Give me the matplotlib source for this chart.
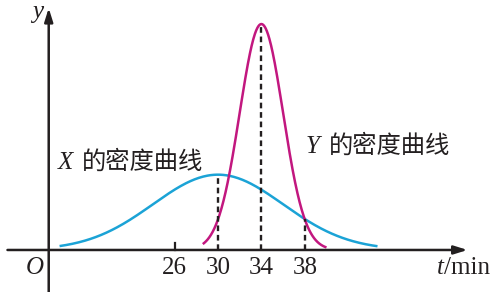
import numpy as np
import matplotlib
matplotlib.use("Agg")
import matplotlib.pyplot as plt

# distribution parameters
x_mu, x_sigma = 30, 6
y_mu, y_sigma = 34, 2
x_span = [15.4, 44.7]
y_span = [28.6, 40.0]
tick_values = [26, 30, 34, 38]
tick_labels = ["26", "30", "34", "38"]

BLUE = "#1ba3d6"
MAGENTA = "#c2177f"
INK = "#231f20"
SERIF = ["Liberation Serif", "DejaVu Serif"]
CJK = ["Noto Sans CJK SC", "DejaVu Sans"]


def pdf(t, mu, sigma):
    return np.exp(-(t - mu) ** 2 / (2 * sigma ** 2)) / (sigma * np.sqrt(2 * np.pi))


def main():
    fig = plt.figure(figsize=(4.95, 2.92), dpi=100)
    ax = fig.add_axes([0, 0, 1, 1])
    ax.set_xlim(9.91, 55.53)
    ax.set_ylim(-0.0371, 0.2207)
    ax.axis("off")

    x0 = 14.4  # where the y axis sits
    arrow = dict(arrowstyle="-|>,head_length=0.8,head_width=0.25", lw=1.8, color=INK,
                 shrinkA=0, shrinkB=0)
    ax.annotate("", xy=(53.0, 0), xytext=(10.6, 0), arrowprops=arrow)
    ax.annotate("", xy=(x0, 0.2136), xytext=(x0, -0.0371), arrowprops=arrow)

    tx = np.linspace(*x_span, 300)
    ty = np.linspace(*y_span, 300)
    ax.plot(tx, pdf(tx, x_mu, x_sigma), color=BLUE, lw=1.8, solid_capstyle="butt")
    ax.plot(ty, pdf(ty, y_mu, y_sigma), color=MAGENTA, lw=1.8, solid_capstyle="butt")

    dash = dict(color=INK, lw=1.7, ls=(0, (2.4, 1.6)))
    ax.plot([x_mu, x_mu], [0, pdf(x_mu, x_mu, x_sigma)], **dash)
    ax.plot([y_mu, y_mu], [0, pdf(y_mu, y_mu, y_sigma)], **dash)
    ax.plot([38, 38], [0, pdf(38, x_mu, x_sigma)], **dash)
    ax.plot([26, 26], [0, 0.006], color=INK, lw=1.6)

    for v, lab in zip(tick_values, tick_labels):
        ax.text(v, -0.0159, lab, family=SERIF, fontsize=18, ha="center", va="center", color=INK)

    ax.text(x0 - 0.5, -0.0159, "O", family=SERIF, style="italic", fontsize=18,
            ha="right", va="center", color=INK)
    ax.text(x0 - 0.5, 0.2100, "y", family=SERIF, style="italic", fontsize=18,
            ha="right", va="center", color=INK)
    ax.text(50.2, -0.0159, "t", family=SERIF, style="italic", fontsize=18,
            ha="left", va="center", color=INK)
    ax.text(50.85, -0.0159, "/min", family=SERIF, fontsize=18,
            ha="left", va="center", color=INK)

    ax.text(15.25, 0.0768, "X", family=SERIF, style="italic", fontsize=18,
            ha="left", va="center", color=INK)
    ax.text(17.45, 0.0782, "的密度曲线", family=CJK, fontsize=17.5,
            ha="left", va="center", color=INK)
    ax.text(38.1, 0.0909, "Y", family=SERIF, style="italic", fontsize=18,
            ha="left", va="center", color=INK)
    ax.text(40.2, 0.0923, "的密度曲线", family=CJK, fontsize=17.5,
            ha="left", va="center", color=INK)

    fig.savefig("out.png", dpi=100)


if __name__ == "__main__":
    main()
